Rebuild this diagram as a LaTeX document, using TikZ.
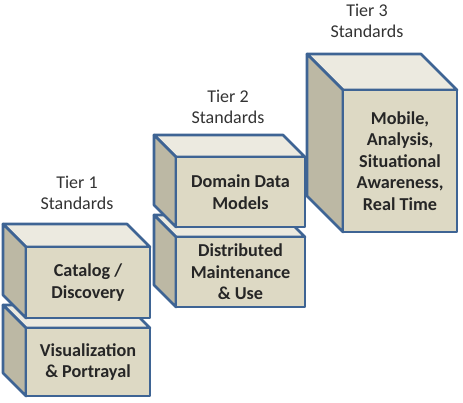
\documentclass[tikz,border=0pt]{standalone}
\usepackage{fontspec}
\setmainfont{Carlito}
\definecolor{boxfront}{RGB}{221,217,196}
\definecolor{boxtop}{RGB}{236,234,224}
\definecolor{boxside}{RGB}{188,184,164}
\definecolor{boxline}{RGB}{62,100,148}
\tikzset{
  face/.style={draw=boxline, line width=2.7pt, line join=round},
  boxtext/.style={align=center, font=\fontsize{18.2}{21.6}\selectfont\bfseries, text=black!85},
  tierlabel/.style={align=center, text=black!80}
}
\begin{document}
\begin{tikzpicture}[x=1pt, y=-1pt, font=\fontsize{18}{21.5}\selectfont]
				\useasboundingbox (0,0) rectangle (463,402);
				% boxes: name/front x/front y/width/height/depth/text
				\foreach \n/\x/\y/\w/\h/\d/\t in {vis/26/328/124/68/23/{Visualization\\\& Portrayal},
				cat/26/247/124/71/23/{Catalog /\\Discovery},
				dist/176/237/129/70/22/{Distributed\\Maintenance\\\& Use},
				dom/176/157/129/70/22/{Domain Data\\Models},
				mob/343/90/114/142/36/{Mobile,\\Analysis,\\Situational\\Awareness,\\Real Time}}{
				\draw[face, fill=boxtop] (\x,\y)--++(-\d,-\d)--++(\w,0)--++(\d,\d)--cycle;
				\draw[face, fill=boxside] (\x,\y)--++(-\d,-\d)--++(0,\h)--++(\d,\d)--cycle;
				\draw[face, fill=boxfront] (\x,\y) rectangle ++(\w,\h);
				\path (\x,\y)++(\w/2,\h/2) node[boxtext] (\n) {\t};
				}
				\node[tierlabel] (tier1) at (77,193) {Tier 1\\Standards};
				\node[tierlabel] (tier2) at (228,107) {Tier 2\\Standards};
				\node[tierlabel] (tier3) at (367,21) {Tier 3\\Standards};
			\end{tikzpicture}
\end{document}
